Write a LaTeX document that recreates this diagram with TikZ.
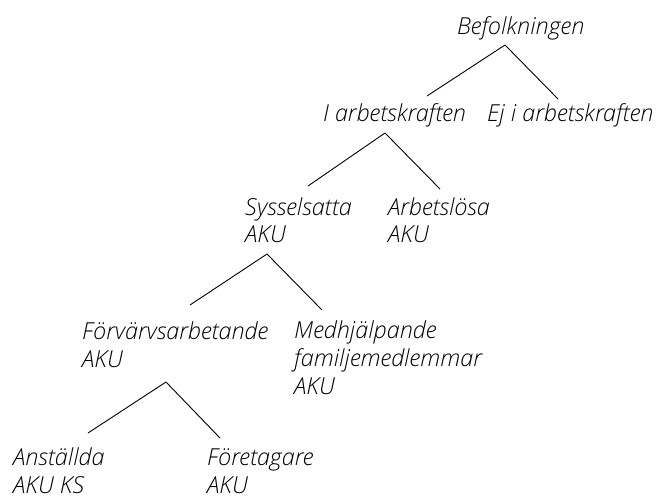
\documentclass[tikz,border=0pt]{standalone}
\usepackage{fontspec}
\setmainfont{Open Sans Light}[ItalicFont={Open Sans Light Italic}]
\begin{document}
\begin{tikzpicture}[>=latex,line join=bevel,x=1bp,y=-1bp,
  lbl/.style={anchor=base west,inner sep=0pt,align=left,text=black,
    font=\fontsize{23.5}{28}\selectfont\itshape}]
\useasboundingbox (0,0) rectangle (662,500);
%%
\node (node_0) at (457,35) [lbl] {Befolkningen};
  \node (node_1) at (323,122) [lbl] {I arbetskraften};
  \node (node_2) at (487,122) [lbl] {Ej i arbetskraften};
  \node (node_3) at (245,243) [lbl] {Sysselsatta\\AKU};
  \node (node_4) at (388,243) [lbl] {Arbetslösa\\AKU};
  \node (node_5) at (82,367) [lbl] {Förvärvsarbetande\\AKU};
  \node (node_6) at (294,394) [lbl] {Medhjälpande\\familjemedlemmar\\AKU};
  \node (node_7) at (13,493) [lbl] {Anställda\\AKU KS};
  \node (node_8) at (207,493) [lbl] {Företagare\\AKU};
%
\coordinate (top_0) at (505,45);
  \coordinate (end_1) at (427,96);
  \coordinate (end_2) at (558,99);
  \coordinate (top_1) at (385,133);
  \coordinate (end_3) at (308,186);
  \coordinate (end_4) at (440,189);
  \coordinate (top_3) at (267,254);
  \coordinate (end_5) at (190,305);
  \coordinate (end_6) at (322,310);
  \coordinate (top_5) at (166,382);
  \coordinate (end_7) at (88,433);
  \coordinate (end_8) at (220,438);
  \draw [black,line width=0.9bp] (end_1) -- (top_0) -- (end_2);
  \draw [black,line width=0.9bp] (end_3) -- (top_1) -- (end_4);
  \draw [black,line width=0.9bp] (end_5) -- (top_3) -- (end_6);
  \draw [black,line width=0.9bp] (end_7) -- (top_5) -- (end_8);
%
\end{tikzpicture}
\end{document}
